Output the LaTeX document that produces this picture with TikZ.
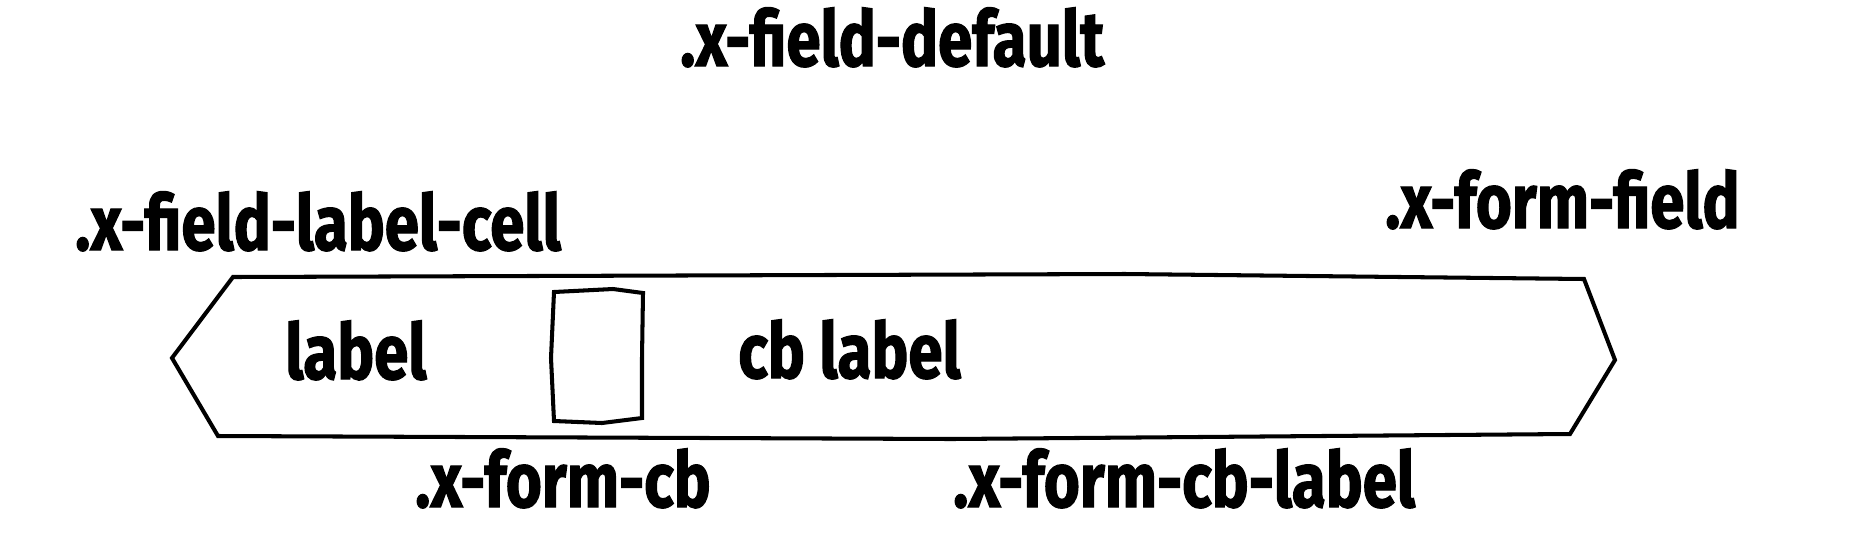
\documentclass[tikz,border=0pt]{standalone}
\usepackage{fontspec}
\newfontfamily\handfont[FakeStretch=0.8,FakeBold=1.5]{Fira Sans}
\begin{document}
\begin{tikzpicture}[x=0.02cm,y=-0.02cm,
  lbl/.style={font=\handfont\bfseries\fontsize{44}{48}\selectfont, inner sep=0pt, anchor=base west},
  outline/.style={draw=black, line width=2.3pt, line join=miter}]
\useasboundingbox (0,0) rectangle (1874,549);
% outer field shape
\draw[outline] (172,358) -- (233,277) -- (1125,274) -- (1584,279) -- (1615,360)
  -- (1570,434) -- (952,439) -- (218,436) -- cycle;
% checkbox
\draw[outline] (554,292) -- (613,289) -- (643,293) -- (642,358) -- (642,418)
  -- (602,423) -- (554,421) -- (551,358) -- cycle;
\node[lbl] (def) at (680,66) {.x-field-default};
\node[lbl] (cell) at (75,250) {.x-field-label-cell};
\node[lbl] (ff) at (1385,228) {.x-form-field};
\node[lbl] (lab) at (285,379) {label};
\node[lbl] (cbl) at (738,378) {cb label};
\node[lbl] (cb) at (415,507) {.x-form-cb};
\node[lbl] (cblab) at (953,507) {.x-form-cb-label};
\end{tikzpicture}
\end{document}
